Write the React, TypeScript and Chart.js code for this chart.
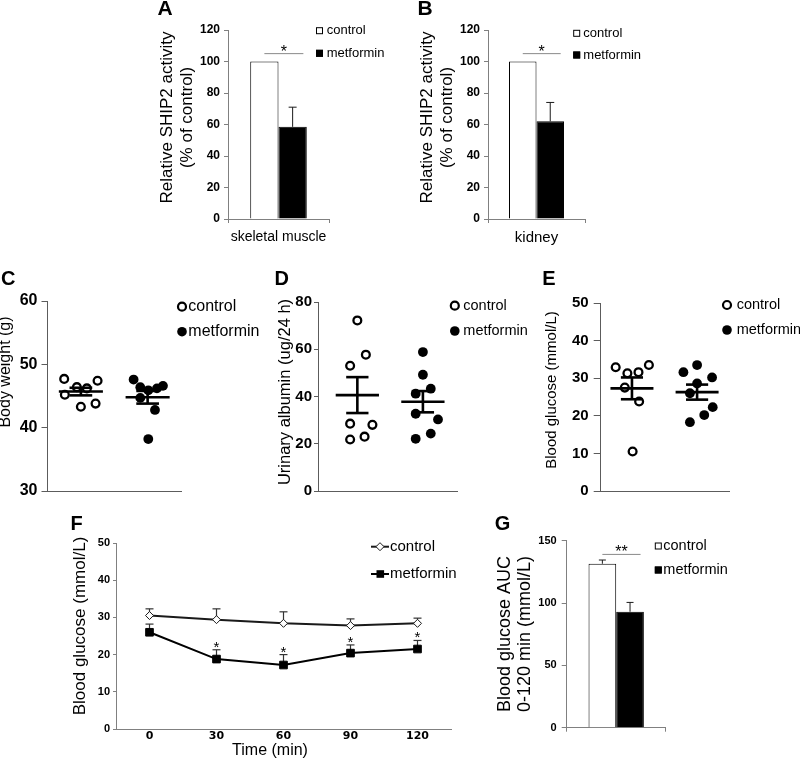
import React, { useEffect, useRef } from 'react';
import { Chart, registerables } from 'chart.js';

Chart.register(...registerables);

const FONT = "'Liberation Sans', Arial, Helvetica, sans-serif";
Chart.defaults.font.family = FONT;

// ================= DATA =================
const groupNames = ['control', 'metformin'];

// Panel A – SHIP2 activity, skeletal muscle (% of control)
const aCategories = ['skeletal muscle'];
const aControl = [100];
const aControlErr = [0];
const aMetformin = [58.5];
const aMetforminErr = [12.5];
const aSignificance = 105;
const aSigMark = '*';

// Panel B – SHIP2 activity, kidney (% of control)
const bCategories = ['kidney'];
const bControl = [100];
const bControlErr = [0];
const bMetformin = [62];
const bMetforminErr = [12];
const bSignificance = 105;
const bSigMark = '*';

// Panel C – body weight (g)
const cControl = [47.7, 46.4, 46.2, 47.4, 45.2, 43.3, 43.8];
const cControlJitter = [-0.25, -0.06, 0.09, 0.25, -0.24, 0.0, 0.22];
const cMetformin = [47.6, 46.4, 45.9, 46.2, 46.6, 44.7, 42.8, 38.2];
const cMetforminJitter = [-0.21, -0.11, 0.01, 0.14, 0.23, -0.11, 0.11, 0.01];
const cMean = [45.7, 44.8];
const cSem = [0.6, 1.0];

// Panel D – urinary albumin (ug/24 h)
const dControl = [72.2, 57.7, 53.0, 28.5, 28.0, 21.8, 23.0];
const dControlJitter = [0.0, 0.13, -0.11, -0.11, 0.23, -0.11, 0.11];
const dMetformin = [58.8, 49.2, 41.2, 43.3, 32.7, 30.3, 22.1, 24.3];
const dMetforminJitter = [0.0, 0.0, -0.11, 0.12, -0.11, 0.23, -0.11, 0.12];
const dMean = [40.6, 37.8];
const dSem = [7.6, 4.5];

// Panel E – blood glucose (mmol/L)
const eControl = [32.9, 31.3, 31.6, 33.5, 27.5, 23.8, 10.5];
const eControlJitter = [-0.25, -0.07, 0.1, 0.26, -0.11, 0.11, 0.01];
const eMetformin = [31.6, 33.5, 30.2, 28.6, 26.0, 22.3, 20.2, 18.3];
const eMetforminJitter = [-0.21, 0.0, 0.23, 0.0, -0.11, 0.24, 0.11, -0.11];
const eMean = [27.3, 26.3];
const eSem = [2.9, 2.0];

// Panel F – glucose tolerance time course
const fTimes = ['0', '30', '60', '90', '120'];
const fControl = [30.5, 29.4, 28.4, 27.8, 28.4];
const fControlErr = [1.8, 2.9, 3.1, 1.8, 1.4];
const fMetformin = [26.0, 18.8, 17.2, 20.4, 21.5];
const fMetforminErr = [2.2, 2.5, 2.8, 2.2, 2.3];
const fSigMarks = ['', '*', '*', '*', '*'];

// Panel G – blood glucose AUC 0-120 min
const gCategories = [''];
const gControl = [131.5];
const gControlErr = [3];
const gMetformin = [93];
const gMetforminErr = [7.5];
const gSignificance = 139;
const gSigMark = '**';

// ================= HELPERS =================
const W = 800;
const H = 768;
const Y_W = 40;
const X_H = 30;
const AXIS = '#808080';
const AXIS_DARK = '#5c5c5c';

function pad(left: number, top: number, right: number, bottom: number) {
  return { left: left - Y_W, top, right: W - right, bottom: H - bottom - X_H };
}
function fitY(s: any) {
  s.width = Y_W;
  s.paddingTop = 0;
  s.paddingBottom = 0;
}
function fitX(s: any) {
  s.height = X_H;
  s.paddingLeft = 0;
  s.paddingRight = 0;
}
function base(padding: any, scales: any) {
  return {
    responsive: false,
    animation: false,
    devicePixelRatio: 1,
    events: [],
    layout: { autoPadding: false, padding },
    plugins: { legend: { display: false }, tooltip: { enabled: false }, title: { display: false } },
    scales,
  };
}
function yScale(min: number, max: number, step: number, size: number, tickLen: number, tickPad: number, color: string) {
  return {
    type: 'linear',
    min,
    max,
    ticks: { stepSize: step, color: '#000', padding: tickPad, font: { family: FONT, size, weight: 'bold' } },
    grid: { display: true, drawOnChartArea: false, drawTicks: true, tickLength: tickLen, color, tickColor: color, tickWidth: 1 },
    border: { display: true, color, width: 1 },
    afterFit: fitY,
  };
}

function drawLine(ctx: any, x1: number, y1: number, x2: number, y2: number, w: number, color: string) {
  ctx.save();
  ctx.beginPath();
  ctx.lineWidth = w;
  ctx.strokeStyle = color;
  ctx.moveTo(x1, y1);
  ctx.lineTo(x2, y2);
  ctx.stroke();
  ctx.restore();
}
function drawText(ctx: any, s: string, x: number, y: number, size: number, o: any = {}) {
  ctx.save();
  ctx.font = `${o.bold ? 'bold ' : ''}${size}px ${o.family || FONT}`;
  ctx.fillStyle = o.color || '#000';
  ctx.textAlign = o.align || 'left';
  ctx.textBaseline = o.baseline || 'middle';
  ctx.fillText(s, x, y);
  ctx.restore();
}
function drawVText(ctx: any, lines: string[], cx: number, cy: number, size: number, gap: number) {
  ctx.save();
  ctx.translate(cx, cy);
  ctx.rotate(-Math.PI / 2);
  ctx.font = `${size}px ${FONT}`;
  ctx.fillStyle = '#000';
  ctx.textAlign = 'center';
  ctx.textBaseline = 'middle';
  lines.forEach((l, i) => ctx.fillText(l, 0, (i - (lines.length - 1) / 2) * gap));
  ctx.restore();
}
function squareLegend(ctx: any, cx: number, ys: number[], textX: number, size: number, font: number) {
  ys.forEach((y, i) => {
    ctx.save();
    ctx.fillStyle = i === 0 ? '#fff' : '#000';
    ctx.fillRect(cx - size / 2, y - size / 2, size, size);
    ctx.strokeStyle = '#000';
    ctx.lineWidth = 1;
    ctx.strokeRect(cx - size / 2 + 0.5, y - size / 2 + 0.5, size - 1, size - 1);
    ctx.restore();
    drawText(ctx, groupNames[i], textX, y, font);
  });
}
function dotLegend(ctx: any, cx: number, ys: number[], textX: number, font: number, rOpen: number, wOpen: number, rFilled: number) {
  ctx.save();
  ctx.beginPath();
  ctx.arc(cx, ys[0], rOpen, 0, Math.PI * 2);
  ctx.lineWidth = wOpen;
  ctx.strokeStyle = '#000';
  ctx.stroke();
  ctx.beginPath();
  ctx.arc(cx, ys[1], rFilled, 0, Math.PI * 2);
  ctx.fillStyle = '#000';
  ctx.fill();
  ctx.restore();
  drawText(ctx, groupNames[0], textX, ys[0], font);
  drawText(ctx, groupNames[1], textX, ys[1], font);
}

// ================= BAR PANELS (A, B, G) =================
function barChart(d: any, L: any) {
  const decor = {
    id: 'decorBar',
    afterDatasetsDraw(chart: any) {
      const ctx = chart.ctx;
      const ys = chart.scales.y;
      const metas = [chart.getDatasetMeta(0).data, chart.getDatasetMeta(1).data];
      const vals = [d.control, d.metformin];
      const errs = [d.controlErr, d.metforminErr];
      metas.forEach((els: any[], k: number) =>
        els.forEach((el: any, i: number) => {
          const e = errs[k][i];
          if (!e) return;
          const top = ys.getPixelForValue(vals[k][i] + e);
          drawLine(ctx, el.x, el.y, el.x, top, 1, '#1a1a1a');
          drawLine(ctx, el.x - L.cap, top, el.x + L.cap, top, 1, '#1a1a1a');
        })
      );
      const b0 = metas[0][0];
      const b1 = metas[1][0];
      const sy = ys.getPixelForValue(d.sig);
      const x2 = b1.x + 0.38 * b1.width;
      drawLine(ctx, b0.x, sy, x2, sy, 1, '#8a8a8a');
      drawText(ctx, d.sigMark, (b0.x + x2) / 2, sy + 3, 16, { align: 'center', baseline: 'alphabetic' });
    },
    afterDraw(chart: any) {
      const ctx = chart.ctx;
      drawText(ctx, L.letter, L.letterX, L.letterY, L.letterSize, { bold: true, align: 'center', baseline: 'alphabetic' });
      drawVText(ctx, L.title, L.titleX, L.titleY, L.titleSize, L.titleGap);
      squareLegend(ctx, L.legX, L.legY, L.legTextX, L.legBox, L.legFont);
    },
  };
  return {
    type: 'bar',
    data: {
      labels: d.labels,
      datasets: [
        { label: groupNames[0], data: d.control, backgroundColor: '#fff', borderColor: '#000', borderWidth: 1, barPercentage: 1, categoryPercentage: L.catPct },
        { label: groupNames[1], data: d.metformin, backgroundColor: '#000', borderColor: '#000', borderWidth: 1, barPercentage: 1, categoryPercentage: L.catPct },
      ],
    },
    options: base(pad(L.area[0], L.area[1], L.area[2], L.area[3]), {
      x: {
        type: 'category',
        ticks: { color: '#000', padding: L.xPad, font: { family: FONT, size: L.xFont } },
        grid: { display: true, drawOnChartArea: false, drawTicks: true, tickLength: 4, color: AXIS, tickColor: AXIS, offset: true },
        border: { display: true, color: AXIS, width: 1 },
        afterFit: fitX,
      },
      y: yScale(0, L.yMax, L.yStep, L.yFont, L.yTick, L.yPad, AXIS),
    }),
    plugins: [decor],
  };
}

// ================= DOT PANELS (C, D, E) =================
function dotChart(d: any, L: any) {
  const toPts = (vals: number[], jit: number[], g: number) => vals.map((v, i) => ({ x: g + jit[i], y: v }));
  const decor = {
    id: 'decorDot',
    afterDatasetsDraw(chart: any) {
      const ctx = chart.ctx;
      const xs = chart.scales.x;
      const ys = chart.scales.y;
      [0, 1].forEach((k) => {
        const g = k + 1;
        const ym = ys.getPixelForValue(d.mean[k]);
        const yt = ys.getPixelForValue(d.mean[k] + d.sem[k]);
        const yb = ys.getPixelForValue(d.mean[k] - d.sem[k]);
        const xc = xs.getPixelForValue(g);
        drawLine(ctx, xs.getPixelForValue(g - 0.33), ym, xs.getPixelForValue(g + 0.33), ym, 2.6, '#000');
        drawLine(ctx, xc, yt, xc, yb, 2.6, '#000');
        drawLine(ctx, xs.getPixelForValue(g - 0.17), yt, xs.getPixelForValue(g + 0.17), yt, 2.6, '#000');
        drawLine(ctx, xs.getPixelForValue(g - 0.17), yb, xs.getPixelForValue(g + 0.17), yb, 2.6, '#000');
      });
    },
    afterDraw(chart: any) {
      const ctx = chart.ctx;
      drawText(ctx, L.letter, L.letterX, L.letterY, 20, { bold: true, align: 'center', baseline: 'alphabetic' });
      drawVText(ctx, L.title, L.titleX, L.titleY, L.titleSize, 18);
      dotLegend(ctx, L.legX, L.legY, L.legTextX, L.legFont, 4, 2.2, 4.8);
    },
  };
  return {
    type: 'scatter',
    data: {
      datasets: [
        {
          label: groupNames[0],
          data: toPts(d.control, d.controlJitter, 1),
          pointRadius: 3.9,
          pointBorderWidth: 2.3,
          pointBorderColor: '#000',
          pointBackgroundColor: 'rgba(0,0,0,0)',
          showLine: false,
        },
        {
          label: groupNames[1],
          data: toPts(d.metformin, d.metforminJitter, 2),
          pointRadius: 4.9,
          pointBorderWidth: 0,
          pointBorderColor: '#000',
          pointBackgroundColor: '#000',
          showLine: false,
        },
      ],
    },
    options: base(pad(L.area[0], L.area[1], L.area[2], L.area[3]), {
      x: {
        type: 'linear',
        min: L.xMin,
        max: L.xMax,
        ticks: { display: false },
        grid: { display: false, drawTicks: false, tickLength: 0 },
        border: { display: true, color: AXIS_DARK, width: 1 },
        afterFit: fitX,
      },
      y: yScale(L.yMin, L.yMax, L.yStep, L.yFont, L.yTick, L.yPad, AXIS_DARK),
    }),
    plugins: [decor],
  };
}

// ================= LINE PANEL (F) =================
function lineChartF() {
  const decor = {
    id: 'decorLine',
    beforeDatasetsDraw(chart: any) {
      const ctx = chart.ctx;
      const ys = chart.scales.y;
      const sets = [
        [chart.getDatasetMeta(0).data, fControl, fControlErr],
        [chart.getDatasetMeta(1).data, fMetformin, fMetforminErr],
      ];
      sets.forEach(([els, vals, errs]: any) =>
        els.forEach((el: any, i: number) => {
          const top = ys.getPixelForValue(vals[i] + errs[i]);
          drawLine(ctx, el.x, el.y, el.x, top, 1.2, '#333');
          drawLine(ctx, el.x - 4, top, el.x + 4, top, 1.2, '#333');
        })
      );
    },
    afterDatasetsDraw(chart: any) {
      const ctx = chart.ctx;
      const ys = chart.scales.y;
      const els = chart.getDatasetMeta(1).data;
      els.forEach((el: any, i: number) => {
        if (!fSigMarks[i]) return;
        const top = ys.getPixelForValue(fMetformin[i] + fMetforminErr[i]);
        drawText(ctx, fSigMarks[i], el.x, top + 2, 15, { align: 'center', baseline: 'alphabetic' });
      });
    },
    afterDraw(chart: any) {
      const ctx = chart.ctx;
      drawText(ctx, 'F', 76.7, 530, 20, { bold: true, align: 'center', baseline: 'alphabetic' });
      drawVText(ctx, ['Blood glucose (mmol/L)'], 80, 626, 17, 18);
      drawText(ctx, 'Time (min)', 270, 751, 16, { align: 'center' });
      // legend
      const ly = [546.7, 574];
      drawLine(ctx, 371, ly[0], 389, ly[0], 2, '#1a1a1a');
      ctx.save();
      ctx.beginPath();
      ctx.moveTo(380, ly[0] - 4);
      ctx.lineTo(384, ly[0]);
      ctx.lineTo(380, ly[0] + 4);
      ctx.lineTo(376, ly[0]);
      ctx.closePath();
      ctx.fillStyle = '#fff';
      ctx.fill();
      ctx.strokeStyle = '#1a1a1a';
      ctx.lineWidth = 1;
      ctx.stroke();
      ctx.restore();
      drawLine(ctx, 371, ly[1], 389, ly[1], 2, '#000');
      ctx.save();
      ctx.fillStyle = '#000';
      ctx.fillRect(376.5, ly[1] - 3.8, 7.6, 7.6);
      ctx.restore();
      drawText(ctx, groupNames[0], 390, ly[0], 15);
      drawText(ctx, groupNames[1], 390, ly[1], 15);
    },
  };
  return {
    type: 'line',
    data: {
      labels: fTimes,
      datasets: [
        {
          label: groupNames[0],
          data: fControl,
          borderColor: '#1a1a1a',
          borderWidth: 2,
          pointStyle: 'rectRot',
          pointRadius: 4,
          pointBackgroundColor: '#fff',
          pointBorderColor: '#1a1a1a',
          pointBorderWidth: 1,
          tension: 0,
          fill: false,
        },
        {
          label: groupNames[1],
          data: fMetformin,
          borderColor: '#000',
          borderWidth: 2,
          pointStyle: 'rect',
          pointRadius: 5.4,
          pointBackgroundColor: '#000',
          pointBorderColor: '#000',
          pointBorderWidth: 1,
          tension: 0,
          fill: false,
        },
      ],
    },
    options: base(pad(116, 543, 451, 729), {
      x: {
        type: 'category',
        offset: true,
        ticks: { color: '#000', padding: 1, font: { family: "'DejaVu Sans', sans-serif", size: 11, weight: 'bold' } },
        grid: { display: false, drawTicks: false, tickLength: 0 },
        border: { display: true, color: AXIS, width: 1 },
        afterFit: fitX,
      },
      y: yScale(0, 50, 10, 11, 3, 3, AXIS),
    }),
    plugins: [decor],
  };
}

// ================= CONFIG FACTORIES =================
const makers: Array<() => any> = [
  () =>
    barChart(
      { labels: aCategories, control: aControl, controlErr: aControlErr, metformin: aMetformin, metforminErr: aMetforminErr, sig: aSignificance, sigMark: aSigMark },
      {
        area: [228, 30, 329, 219], catPct: 0.56, cap: 4,
        xFont: 14, xPad: 6, yMax: 120, yStep: 20, yFont: 12, yTick: 4, yPad: 4,
        letter: 'A', letterX: 165, letterY: 15, letterSize: 21,
        title: ['Relative SHIP2 activity', '(% of control)'], titleX: 177.5, titleY: 117.5, titleSize: 17, titleGap: 20,
        legX: 319.5, legY: [30.7, 53.3], legTextX: 326.7, legBox: 7, legFont: 13,
      }
    ),
  () =>
    barChart(
      { labels: bCategories, control: bControl, controlErr: bControlErr, metformin: bMetformin, metforminErr: bMetforminErr, sig: bSignificance, sigMark: bSigMark },
      {
        area: [488, 30, 585, 219], catPct: 0.567, cap: 4,
        xFont: 15, xPad: 6, yMax: 120, yStep: 20, yFont: 12, yTick: 4, yPad: 4,
        letter: 'B', letterX: 425, letterY: 15, letterSize: 21,
        title: ['Relative SHIP2 activity', '(% of control)'], titleX: 437.5, titleY: 117.5, titleSize: 17, titleGap: 20,
        legX: 576.7, legY: [33.3, 55], legTextX: 583.3, legBox: 7, legFont: 13,
      }
    ),
  () =>
    dotChart(
      { control: cControl, controlJitter: cControlJitter, metformin: cMetformin, metforminJitter: cMetforminJitter, mean: cMean, sem: cSem },
      {
        area: [47.5, 301, 181, 491], xMin: 0.5, xMax: 2.5, yMin: 30, yMax: 60, yStep: 10, yFont: 16, yTick: 6, yPad: 4,
        letter: 'C', letterX: 8.3, letterY: 285,
        title: ['Body weight (g)'], titleX: 6, titleY: 372, titleSize: 16,
        legX: 182, legY: [306.7, 331.7], legTextX: 188.3, legFont: 16,
      }
    ),
  () =>
    dotChart(
      { control: dControl, controlJitter: dControlJitter, metformin: dMetformin, metforminJitter: dMetforminJitter, mean: dMean, sem: dSem },
      {
        area: [318, 302, 457, 491], xMin: 0.4, xMax: 2.52, yMin: 0, yMax: 80, yStep: 20, yFont: 15, yTick: 4, yPad: 2,
        letter: 'D', letterX: 281.7, letterY: 285,
        title: ['Urinary albumin (ug/24 h)'], titleX: 285, titleY: 392, titleSize: 16.5,
        legX: 454.8, legY: [305.7, 331], legTextX: 463.3, legFont: 14.5,
      }
    ),
  () =>
    dotChart(
      { control: eControl, controlJitter: eControlJitter, metformin: eMetformin, metforminJitter: eMetforminJitter, mean: eMean, sem: eSem },
      {
        area: [600.7, 303, 729, 491], xMin: 0.52, xMax: 2.49, yMin: 0, yMax: 50, yStep: 10, yFont: 15, yTick: 7, yPad: 5,
        letter: 'E', letterX: 549, letterY: 285,
        title: ['Blood glucose (mmol/L)'], titleX: 552, titleY: 390, titleSize: 15,
        legX: 727, legY: [305, 330], legTextX: 736.7, legFont: 14.5,
      }
    ),
  () => lineChartF(),
  () =>
    barChart(
      { labels: gCategories, control: gControl, controlErr: gControlErr, metformin: gMetformin, metforminErr: gMetforminErr, sig: gSignificance, sigMark: gSigMark },
      {
        area: [566.7, 540.7, 665.7, 727.7], catPct: 0.559, cap: 3.5,
        xFont: 12, xPad: 4, yMax: 150, yStep: 50, yFont: 11, yTick: 5, yPad: 5,
        letter: 'G', letterX: 502.5, letterY: 530, letterSize: 20,
        title: ['Blood glucose AUC', '0-120 min (mmol/L)'], titleX: 515, titleY: 634, titleSize: 18, titleGap: 20,
        legX: 658.3, legY: [546, 570], legTextX: 663.3, legBox: 7, legFont: 14.5,
      }
    ),
];

function ChartLayer({ make }: { make: () => any }) {
  const ref = useRef<HTMLCanvasElement>(null);
  useEffect(() => {
    const chart = new Chart(ref.current as HTMLCanvasElement, make());
    return () => chart.destroy();
  }, [make]);
  return (
    <canvas
      ref={ref}
      width={W}
      height={H}
      style={{ position: 'absolute', left: 0, top: 0, width: W, height: H, pointerEvents: 'none' }}
    />
  );
}

export default function App() {
  return (
    <div style={{ position: 'absolute', left: 0, top: 0, width: W, height: H, background: '#fff', overflow: 'hidden' }}>
      {makers.map((m, i) => (
        <ChartLayer key={i} make={m} />
      ))}
    </div>
  );
}
